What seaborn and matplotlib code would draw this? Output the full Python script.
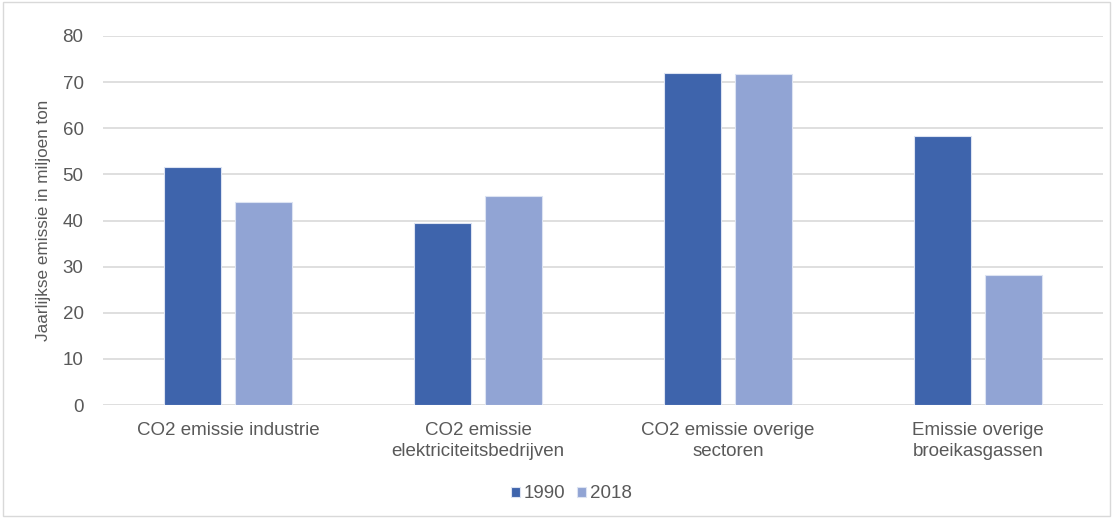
import pandas as pd
import matplotlib.pyplot as plt
import seaborn as sns
from matplotlib.patches import Rectangle

# Data

categories = [
    "CO2 emissie industrie",
    "CO2 emissie\nelektriciteitsbedrijven",
    "CO2 emissie overige\nsectoren",
    "Emissie overige\nbroeikasgassen",
]
years = ["1990", "2018"]
values_1990 = [51.5, 39.5, 72.0, 58.4]
values_2018 = [44.0, 45.3, 71.8, 28.1]

df = pd.DataFrame({
    "Categorie": categories * 2,
    "Jaar": [years[0]] * 4 + [years[1]] * 4,
    "Emissie": values_1990 + values_2018,
})

sns.set_style("white")
plt.rcParams['font.family'] = ['Liberation Sans', 'DejaVu Sans']

fig = plt.figure(figsize=(11.13, 5.18), dpi=100)
ax = fig.add_axes([103 / 1113, 1 - 405 / 518, 1000 / 1113, 369 / 518])

sns.barplot(
    data=df,
    x="Categorie",
    y="Emissie",
    hue="Jaar",
    palette=["#3E64AC", "#91A4D4"],
    saturation=1,
    width=0.568,
    gap=0.21,
    edgecolor="#DCE3F2",
    linewidth=0.8,
    ax=ax,
    zorder=3,
)

ax.set_ylim(0, 80)
ax.set_xlim(-0.5, 3.5)
ax.set_yticks(range(0, 81, 10))
ax.yaxis.grid(True, color="#D9D9D9", linewidth=1.2, zorder=0)
ax.set_axisbelow(True)
for s in ax.spines.values():
    s.set_visible(False)
ax.tick_params(axis="both", length=0, labelsize=13.5, colors="#595959")
ax.tick_params(axis="x", pad=12)
ax.tick_params(axis="y", pad=14)
for lbl in ax.get_xticklabels():
    lbl.set_linespacing(1.3)
ax.set_xlabel("")
ax.set_ylabel("Jaarlijkse emissie in miljoen ton", fontsize=12.3, color="#595959", labelpad=8)

handles, labels = ax.get_legend_handles_labels()
ax.legend(
    handles, labels,
    loc="center", bbox_to_anchor=(571 / 1113, 1 - 494 / 518),
    bbox_transform=fig.transFigure,
    ncol=2, frameon=False, fontsize=13.5,
    handlelength=0.5, handleheight=0.5, handletextpad=0.2, columnspacing=0.6,
    labelcolor="#595959",
)

# light frame around the chart
fig.patches.append(Rectangle((0.003, 0.003), 0.994, 0.994, transform=fig.transFigure,
                             fill=False, edgecolor="#D9D9D9", linewidth=1))

fig.savefig("out.png", dpi=100)
